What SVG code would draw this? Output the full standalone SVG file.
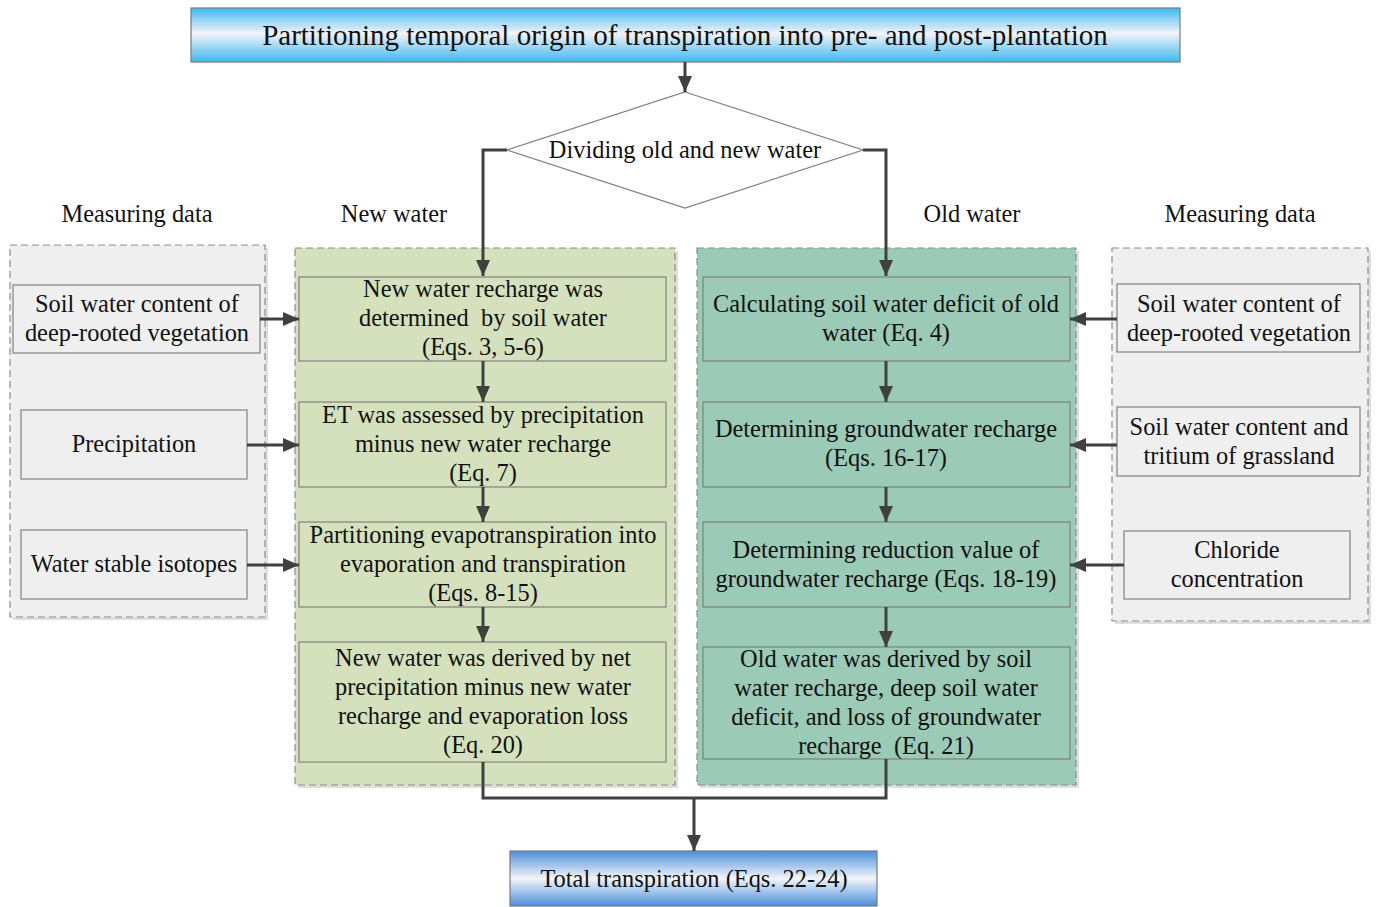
<svg xmlns="http://www.w3.org/2000/svg" width="1376" height="907" viewBox="0 0 1376 907">
<defs>
<linearGradient id="gTitle" x1="0" y1="0" x2="0" y2="1">
<stop offset="0" stop-color="#3db8ef"/>
<stop offset="0.47" stop-color="#f3f3f8"/>
<stop offset="1" stop-color="#3db8ef"/>
</linearGradient>
<linearGradient id="gTotal" x1="0" y1="0" x2="0" y2="1">
<stop offset="0" stop-color="#4a8fdb"/>
<stop offset="0.5" stop-color="#f3f5fa"/>
<stop offset="1" stop-color="#4a8fdb"/>
</linearGradient>
<marker id="arr" viewBox="0 0 16 14" refX="16" refY="7" markerWidth="16" markerHeight="14" markerUnits="userSpaceOnUse" orient="auto">
<path d="M0,0 L16,7 L0,14 z" fill="#404040"/>
</marker>
<style>
text{font-family:"Liberation Serif","Times New Roman",serif;font-size:24.4px;fill:#111;text-anchor:middle}
.title{font-size:29px}
.box{stroke:#808080;stroke-width:1.2}
.panel{stroke:#8c8c8c;stroke-width:1.2;stroke-dasharray:7 4}
.shadow{fill:#dedede}
.gray{fill:#efefef}
.green{fill:#d5e1bd}
.teal{fill:#9bcab6}
.conn{fill:none;stroke:#404040;stroke-width:3}
</style>
</defs>
<rect width="1376" height="907" fill="#ffffff"/>

<!-- panels -->
<g id="panel-left">
<rect class="shadow" x="13" y="248" width="255" height="372"/>
<rect class="panel gray" x="10" y="245" width="255" height="372"/>
</g>
<g id="panel-new">
<rect class="shadow" x="298" y="251" width="380" height="537"/>
<rect class="panel green" x="295" y="248" width="380" height="537"/>
</g>
<g id="panel-old">
<rect class="shadow" x="700" y="251" width="379" height="537"/>
<rect class="panel teal" x="697" y="248" width="379" height="537"/>
</g>
<g id="panel-right">
<rect class="shadow" x="1115" y="251" width="256" height="373"/>
<rect class="panel gray" x="1112" y="248" width="256" height="373"/>
</g>

<!-- headers -->
<g id="headers">
<text x="137" y="222">Measuring data</text>
<text x="394" y="222">New water</text>
<text x="972" y="222">Old water</text>
<text x="1240" y="222">Measuring data</text>
</g>

<g id="title">
<rect x="191" y="8" width="989" height="54" fill="url(#gTitle)" stroke="#7a7a7a" stroke-width="1.2"/>
<text class="title" x="685" y="45">Partitioning temporal origin of transpiration into pre- and post-plantation</text>
</g>

<g id="decision">
<polygon points="685,92 863,150 685,208 507,150" fill="#ffffff" stroke="#808080" stroke-width="1.2"/>
<text x="685" y="158">Dividing old and new water</text>
</g>

<!-- left measuring boxes -->
<g id="m-left-1">
<rect class="box gray" x="13" y="285" width="247" height="68"/>
<text x="137" y="312">Soil water content of</text>
<text x="137" y="341">deep-rooted vegetation</text>
</g>
<g id="m-left-2">
<rect class="box gray" x="21" y="410" width="226" height="69"/>
<text x="134" y="452">Precipitation</text>
</g>
<g id="m-left-3">
<rect class="box gray" x="21" y="530" width="226" height="69"/>
<text x="134" y="572">Water stable isotopes</text>
</g>

<!-- new water boxes -->
<g id="new-1">
<rect class="box green" x="299" y="277" width="367" height="84"/>
<text x="483" y="297">New water recharge was</text>
<text x="483" y="326" xml:space="preserve">determined  by soil water</text>
<text x="483" y="355">(Eqs. 3, 5-6)</text>
</g>
<g id="new-2">
<rect class="box green" x="299" y="402" width="367" height="85"/>
<text x="483" y="423">ET was assessed by precipitation</text>
<text x="483" y="452">minus new water recharge</text>
<text x="483" y="481">(Eq. 7)</text>
</g>
<g id="new-3">
<rect class="box green" x="299" y="522" width="367" height="85"/>
<text x="483" y="543">Partitioning evapotranspiration into</text>
<text x="483" y="572">evaporation and transpiration</text>
<text x="483" y="601">(Eqs. 8-15)</text>
</g>
<g id="new-4">
<rect class="box green" x="299" y="642" width="367" height="120"/>
<text x="483" y="666">New water was derived by net</text>
<text x="483" y="695">precipitation minus new water</text>
<text x="483" y="724">recharge and evaporation loss</text>
<text x="483" y="753">(Eq. 20)</text>
</g>

<!-- old water boxes -->
<g id="old-1">
<rect class="box teal" x="703" y="277" width="367" height="84"/>
<text x="886" y="312">Calculating soil water deficit of old</text>
<text x="886" y="341">water (Eq. 4)</text>
</g>
<g id="old-2">
<rect class="box teal" x="703" y="402" width="367" height="85"/>
<text x="886" y="437">Determining groundwater recharge</text>
<text x="886" y="466">(Eqs. 16-17)</text>
</g>
<g id="old-3">
<rect class="box teal" x="703" y="522" width="367" height="85"/>
<text x="886" y="558">Determining reduction value of</text>
<text x="886" y="587">groundwater recharge (Eqs. 18-19)</text>
</g>
<g id="old-4">
<rect class="box teal" x="703" y="647" width="367" height="112"/>
<text x="886" y="667">Old water was derived by soil</text>
<text x="886" y="696">water recharge, deep soil water</text>
<text x="886" y="725">deficit, and loss of groundwater</text>
<text x="886" y="754" xml:space="preserve">recharge  (Eq. 21)</text>
</g>

<!-- right measuring boxes -->
<g id="m-right-1">
<rect class="box gray" x="1117" y="284" width="243" height="68"/>
<text x="1239" y="312">Soil water content of</text>
<text x="1239" y="341">deep-rooted vegetation</text>
</g>
<g id="m-right-2">
<rect class="box gray" x="1117" y="407" width="243" height="69"/>
<text x="1239" y="435">Soil water content and</text>
<text x="1239" y="464">tritium of grassland</text>
</g>
<g id="m-right-3">
<rect class="box gray" x="1124" y="531" width="226" height="68"/>
<text x="1237" y="558">Chloride</text>
<text x="1237" y="587">concentration</text>
</g>

<g id="total">
<rect x="510" y="851" width="367" height="55" fill="url(#gTotal)" stroke="#7a7a7a" stroke-width="1.2"/>
<text x="694" y="887">Total transpiration (Eqs. 22-24)</text>
</g>

<!-- connectors -->
<g id="connectors">
<path class="conn" d="M685,62 V92" marker-end="url(#arr)"/>
<path class="conn" d="M507,150 H483 V276" marker-end="url(#arr)"/>
<path class="conn" d="M863,150 H886 V276" marker-end="url(#arr)"/>
<path class="conn" d="M483,361 V402" marker-end="url(#arr)"/>
<path class="conn" d="M483,487 V522" marker-end="url(#arr)"/>
<path class="conn" d="M483,607 V642" marker-end="url(#arr)"/>
<path class="conn" d="M886,361 V402" marker-end="url(#arr)"/>
<path class="conn" d="M886,487 V522" marker-end="url(#arr)"/>
<path class="conn" d="M886,607 V647" marker-end="url(#arr)"/>
<path class="conn" d="M260,319 H299" marker-end="url(#arr)"/>
<path class="conn" d="M247,445 H299" marker-end="url(#arr)"/>
<path class="conn" d="M247,565 H299" marker-end="url(#arr)"/>
<path class="conn" d="M1117,319 H1070" marker-end="url(#arr)"/>
<path class="conn" d="M1117,445 H1070" marker-end="url(#arr)"/>
<path class="conn" d="M1124,565 H1070" marker-end="url(#arr)"/>
<path class="conn" d="M483,762 V798 H886 V759"/>
<path class="conn" d="M694,798 V851" marker-end="url(#arr)"/>
</g>
</svg>
